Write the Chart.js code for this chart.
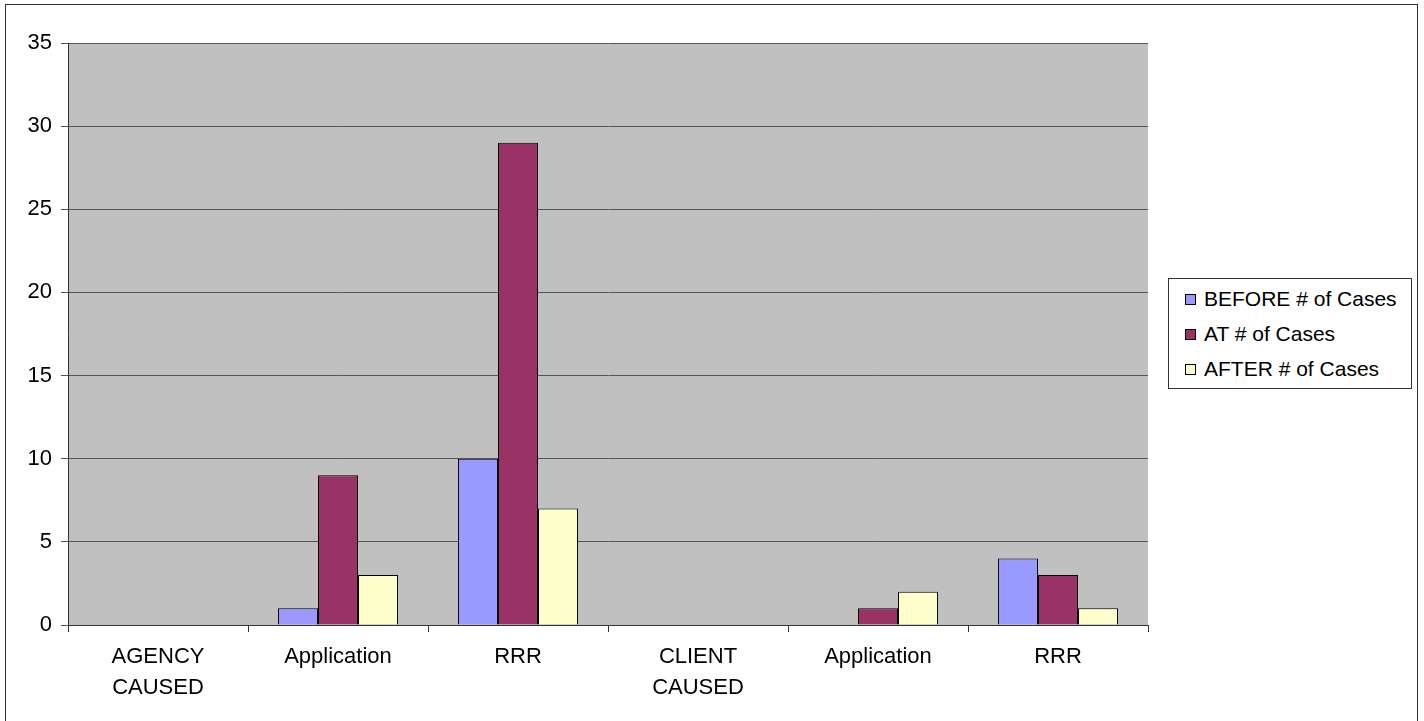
<!DOCTYPE html>
<html>
<head>
<meta charset="utf-8">
<script src="https://cdn.jsdelivr.net/npm/chart.js@4.4.0/dist/chart.umd.min.js"></script>
<style>
  html, body { margin: 0; padding: 0; background: #fff; overflow: hidden; }
  #wrap { position: relative; width: 1424px; height: 721px; overflow: hidden; }
  #frame { position: absolute; left: 5px; top: 4px; width: 1413px; height: 730px; border: 1px solid #333; box-sizing: border-box; pointer-events: none; }
  #legend { position: absolute; left: 1168px; top: 278px; width: 244px; height: 111px; border: 1px solid #333; box-sizing: border-box; background: #fff;
            font-family: "Liberation Sans", Arial, sans-serif; font-size: 21px; color: #000; }
  #legend div { position: absolute; left: 16px; height: 24px; line-height: 24px; white-space: nowrap; }
  #legend span { display: inline-block; width: 11px; height: 11px; border: 1px solid #000; box-sizing: border-box; margin-right: 8px; vertical-align: 1px; }
</style>
</head>
<body>
<div id="wrap">
  <canvas id="chart" width="1424" height="721"></canvas>
  <div id="frame"></div>
  <div id="legend"></div>
</div>
<script>
var categories = [['AGENCY', 'CAUSED'], 'Application', 'RRR', ['CLIENT', 'CAUSED'], 'Application', 'RRR'];
var seriesNames = ['BEFORE # of Cases', 'AT # of Cases', 'AFTER # of Cases'];
var beforeCases = [null, 1, 10, null, 0, 4];
var atCases = [null, 9, 29, null, 1, 3];
var afterCases = [null, 3, 7, null, 2, 1];
var yTicks = [0, 5, 10, 15, 20, 25, 30, 35];
var colors = ['#9999FF', '#993366', '#FFFFCC'];

(function () {
    var font = { family: '"Liberation Sans", Arial, sans-serif', size: 22, lineHeight: 1.4 };

    // grey plot background like the old office charts
    var plotBg = {
        id: 'plotBg',
        beforeDraw: function (chart) {
            var a = chart.chartArea, ctx = chart.ctx;
            ctx.save();
            ctx.fillStyle = '#C0C0C0';
            ctx.fillRect(a.left, a.top, a.right - a.left, a.bottom - a.top);
            ctx.restore();
        }
    };

    var seriesData = [beforeCases, atCases, afterCases];
    var datasets = seriesNames.map(function (name, i) {
        return {
            label: name,
            data: seriesData[i],
            backgroundColor: colors[i],
            borderColor: '#000',
            borderWidth: 1,
            categoryPercentage: 0.667,
            barPercentage: 1.0
        };
    });

    new Chart(document.getElementById('chart').getContext('2d'), {
        type: 'bar',
        data: { labels: categories, datasets: datasets },
        options: {
            responsive: false,
            animation: false,
            layout: { padding: { top: 43, right: 276, left: 0, bottom: 0 } },
            plugins: { legend: { display: false }, tooltip: { enabled: false } },
            scales: {
                x: {
                    offset: true,
                    grid: { offset: true, drawOnChartArea: false, color: '#333', tickLength: 7 },
                    border: { color: '#333', width: 1 },
                    ticks: { color: '#000', font: font, maxRotation: 0, padding: 10 },
                    afterFit: function (s) { s.height = 96; }
                },
                y: {
                    min: 0, max: 35,
                    afterBuildTicks: function (s) { s.ticks = yTicks.map(function (v) { return { value: v }; }); },
                    grid: { color: '#555', tickLength: 7 },
                    border: { color: '#333', width: 1 },
                    ticks: { color: '#000', font: { family: font.family, size: 22 }, padding: 9 },
                    afterFit: function (s) { s.width = 68; }
                }
            }
        },
        plugins: [plotBg]
    });

    var legend = document.getElementById('legend');
    seriesNames.forEach(function (name, i) {
        var row = document.createElement('div');
        row.style.top = (8 + 35 * i) + 'px';
        row.innerHTML = '<span style="background:' + colors[i] + '"></span>' + name;
        legend.appendChild(row);
    });
})();
</script>
</body>
</html>
